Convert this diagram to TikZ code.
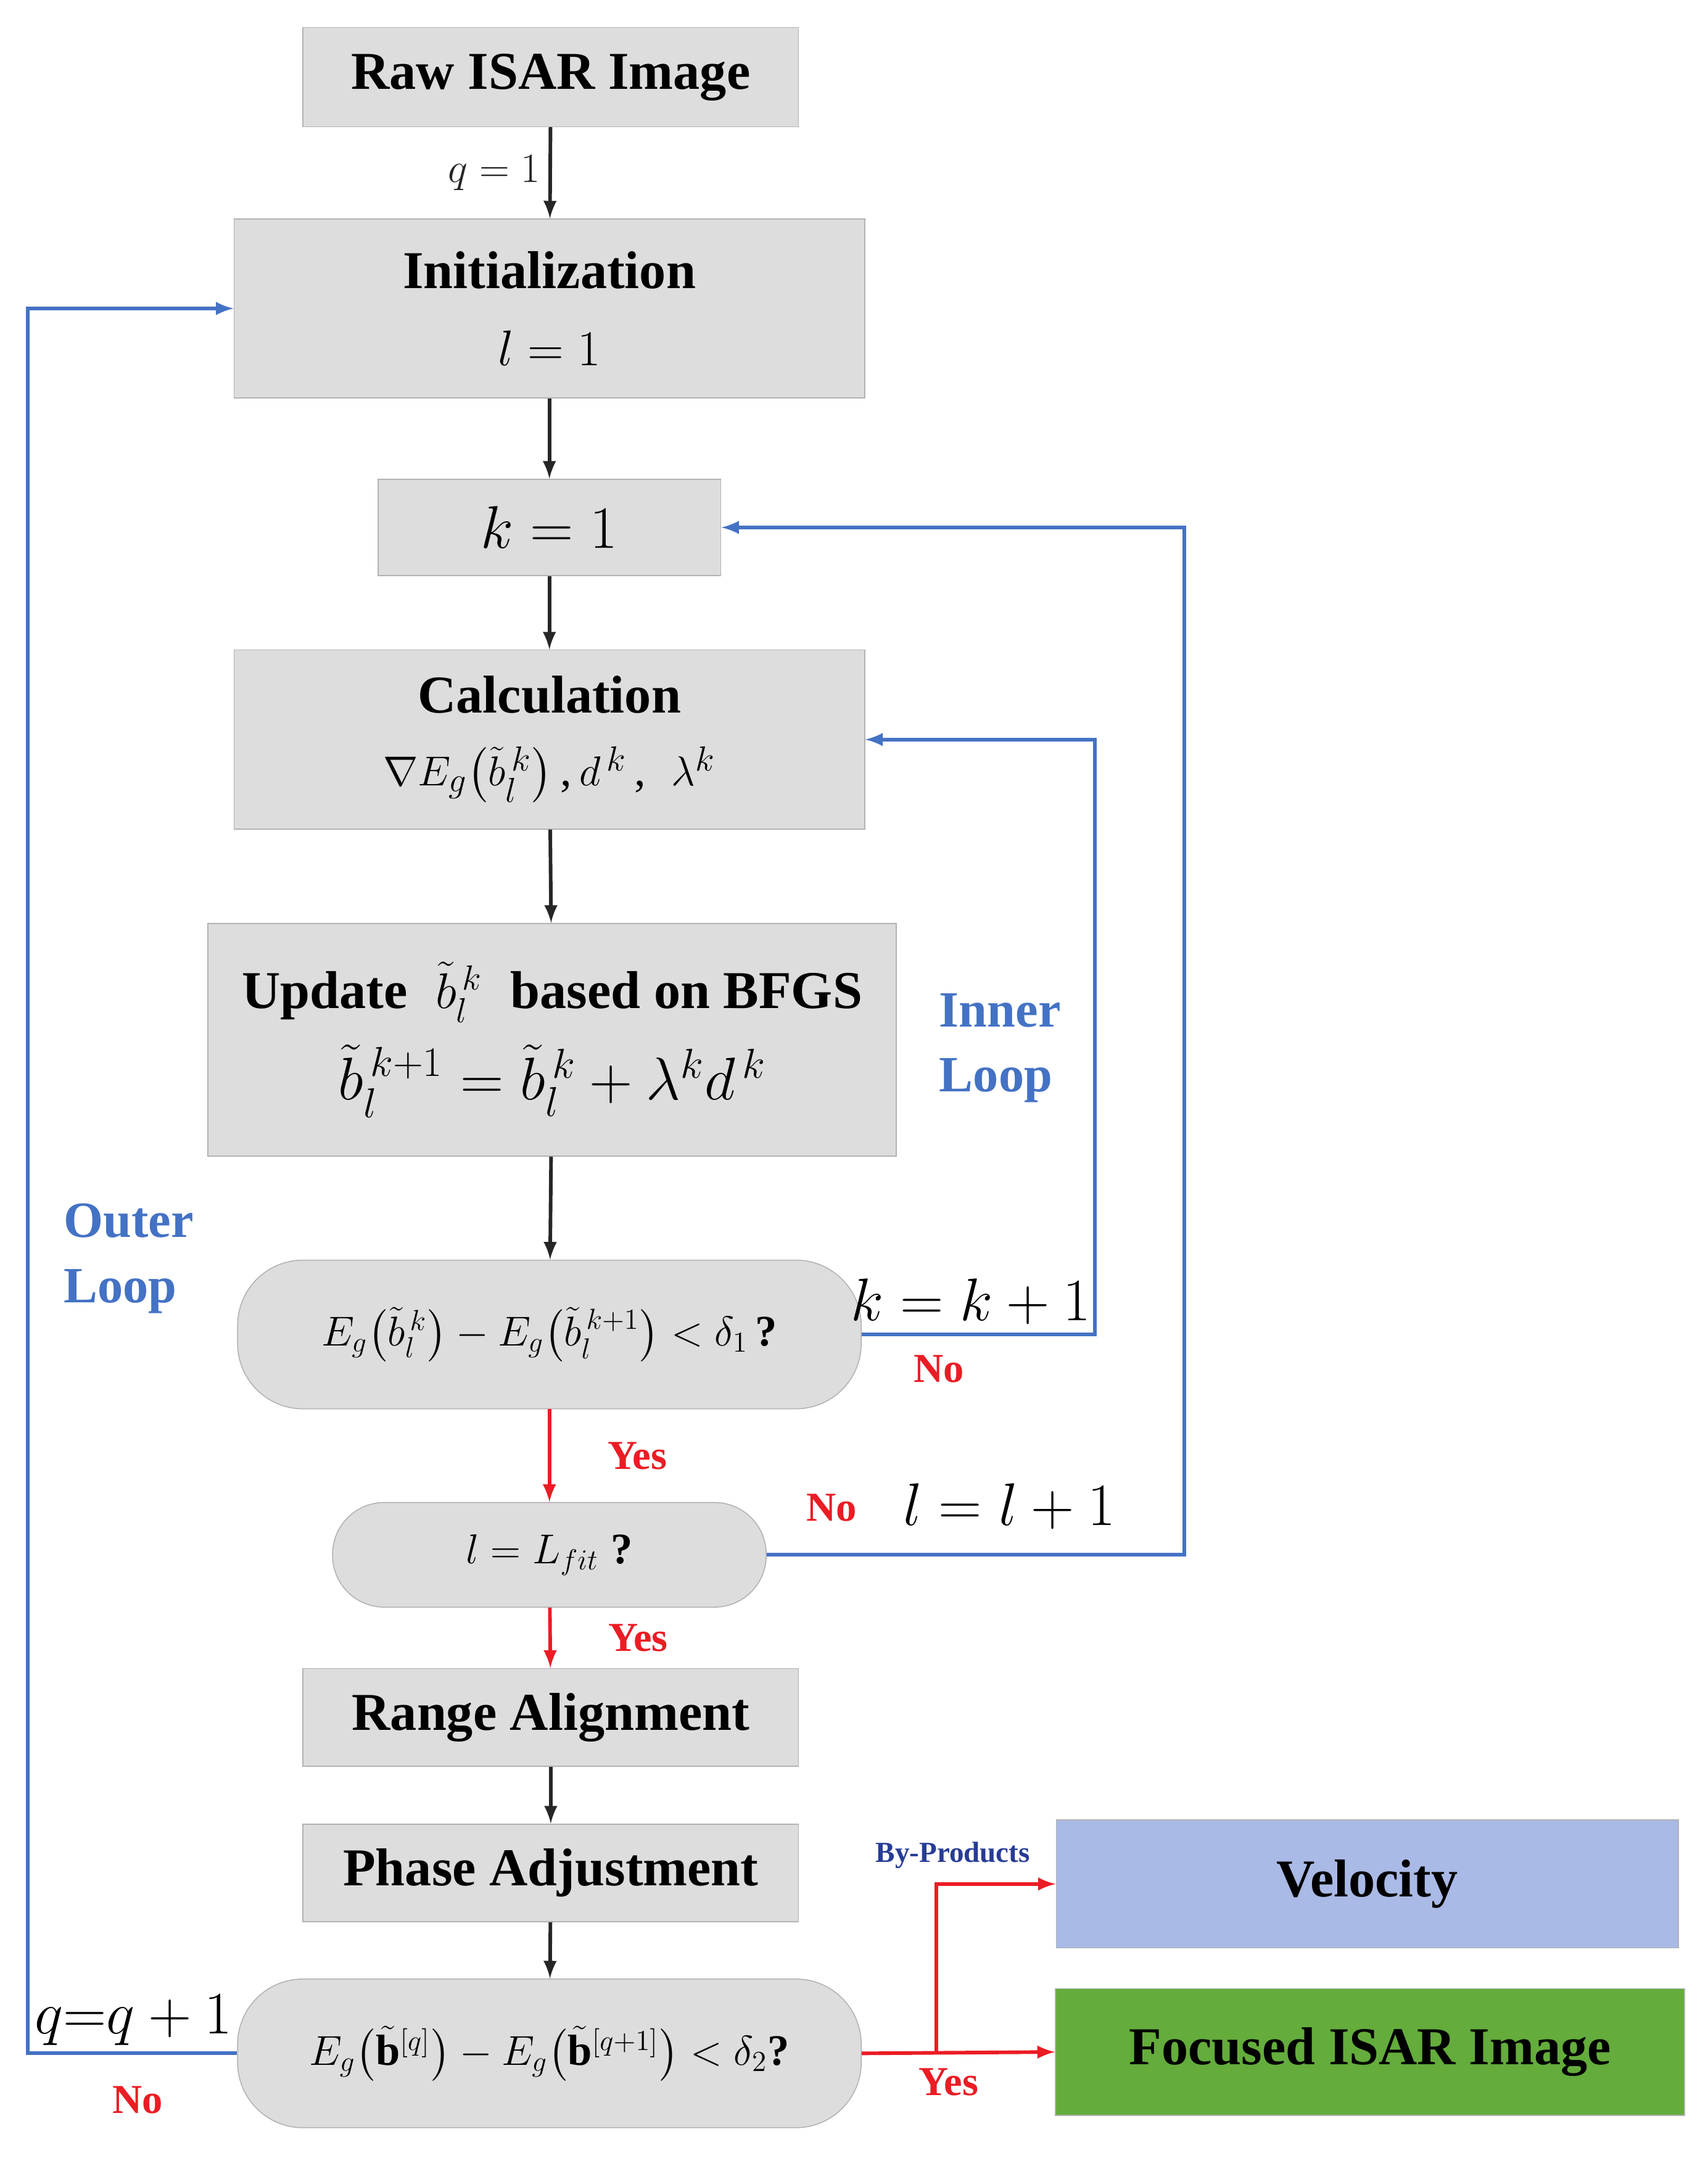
\documentclass[tikz,border=0pt]{standalone}
\usepackage{amsmath,amssymb}
\usepackage{fontspec}
\setmainfont{Liberation Serif}
\usetikzlibrary{positioning}
\definecolor{boxgray}{RGB}{221,221,221}
\definecolor{loopblue}{RGB}{68,114,196}
\definecolor{yesred}{RGB}{235,28,36}
\definecolor{velblue}{RGB}{170,186,230}
\definecolor{focgreen}{RGB}{100,172,60}
\definecolor{bpblue}{RGB}{40,60,150}
\tikzset{
  box/.style={draw=gray!60, fill=boxgray, align=center, inner sep=2pt,
    font=\fontsize{22}{28}\selectfont\bfseries},
  pill/.style={box, rounded corners=0.95cm},
  flow/.style={-latex, line width=1.5pt, black!85},
  yes/.style={-latex, line width=1.5pt, yesred},
  loop/.style={-latex, line width=1.5pt, loopblue},
  redlbl/.style={text=yesred, font=\fontsize{17}{19}\selectfont\bfseries},
  bluelbl/.style={text=loopblue, align=left, font=\fontsize{21}{27}\selectfont\bfseries}
}
\begin{document}
\begin{tikzpicture}[x=0.02cm, y=-0.02cm]
    \useasboundingbox (0,0) rectangle (1240,1567);
    % Boxes
    \node[box, minimum width=7.2cm, minimum height=1.44cm] (raw) at (400,56) {Raw ISAR Image};
    \node[box, minimum width=9.16cm, minimum height=2.6cm] (init) at (399,224) {Initialization\\[4pt] \mdseries$l=1$};
    \node[box, minimum width=4.98cm, minimum height=1.4cm, font=\fontsize{26}{30}\selectfont] (kone) at (399,383) {$k=1$};
    \node[box, minimum width=9.16cm, minimum height=2.6cm] (calc) at (399,537)
      {Calculation\\[2pt] \mdseries\fontsize{19}{24}\selectfont$\nabla E_g\big(\tilde{b}_l^{\,k}\big)$\,,\,$d^{\,k}$\,,\;\;$\lambda^{k}$};
    \node[box, minimum width=10cm, minimum height=3.38cm] (upd) at (401,755)
      {Update \;$\tilde{b}_l^{\,k}$\; based on BFGS\\[8pt] \mdseries\fontsize{24}{28}\selectfont$\tilde{b}_l^{\,k+1}=\tilde{b}_l^{\,k}+\lambda^{k}d^{\,k}$};
    \node[pill, minimum width=9.06cm, minimum height=2.16cm, font=\fontsize{18}{22}\selectfont] (dec1) at (399,969)
      {$E_g\big(\tilde{b}_l^{\,k}\big)-E_g\big(\tilde{b}_l^{\,k+1}\big)<\delta_1$\,\textbf{?}};
    \node[pill, minimum width=6.3cm, minimum height=1.52cm, rounded corners=0.75cm, font=\fontsize{18}{22}\selectfont] (lfit) at (399,1129)
      {$l=L_{fit}$\;\textbf{?}};
    \node[box, minimum width=7.2cm, minimum height=1.42cm] (range) at (400,1247) {Range Alignment};
    \node[box, minimum width=7.2cm, minimum height=1.42cm] (phase) at (400,1360) {Phase Adjustment};
    \node[pill, minimum width=9.06cm, minimum height=2.16cm, font=\fontsize{18}{22}\selectfont] (dec2) at (399,1491)
      {$E_g\big(\tilde{\mathbf{b}}^{[q]}\big)-E_g\big(\tilde{\mathbf{b}}^{[q+1]}\big)<\delta_2$\textbf{?}};
    \node[box, fill=velblue, minimum width=9.04cm, minimum height=1.86cm] (vel) at (993,1368) {Velocity};
    \node[box, fill=focgreen, minimum width=9.14cm, minimum height=1.84cm] (foc) at (995,1490) {Focused ISAR Image};

    % Main flow
    \draw[flow] (raw) -- node[left, font=\fontsize{18}{20}\selectfont] {$q=1$} (init);
    \draw[flow] (init) -- (kone);
    \draw[flow] (kone) -- (calc);
    \draw[flow] (calc) -- (upd);
    \draw[flow] (upd) -- (dec1);
    \draw[yes] (dec1) -- node[right, redlbl, xshift=20pt] {Yes} (lfit);
    \draw[yes] (lfit) -- node[right, redlbl, xshift=20pt] {Yes} (range);
    \draw[flow] (range) -- (phase);
    \draw[flow] (phase) -- (dec2);

    % Loops
    \coordinate (ia) at (795,969);
    \coordinate (ib) at (795,537);
    \draw[loop] (dec1.east) -- (ia) -- (ib) -- (calc.east);
    \node[font=\fontsize{24}{28}\selectfont] at (705,945) {$k=k+1$};
    \node[redlbl] at (682,994) {No};
    \coordinate (la) at (860,1129);
    \coordinate (lb) at (860,383);
    \draw[loop] (lfit.east) -- (la) -- (lb) -- (kone.east);
    \node[redlbl] at (604,1095) {No};
    \node[font=\fontsize{24}{28}\selectfont] at (733,1094) {$l=l+1$};
    \coordinate (oa) at (20,1491);
    \coordinate (ob) at (20,224);
    \draw[loop] (dec2.west) -- (oa) -- (ob) -- (init.west);
    \node[font=\fontsize{24}{28}\selectfont] at (97,1467) {$q{=}q+1$};
    \node[redlbl] at (100,1525) {No};
    \node[bluelbl, anchor=west] at (676,761) {Inner\\Loop};
    \node[bluelbl, anchor=west] at (40,914) {Outer\\Loop};

    % Outputs
    \coordinate (br) at (680,1491);
    \draw[yes] (dec2.east) -- (foc.west);
    \draw[yes] (br) |- (vel.west);
    \node[text=bpblue, font=\fontsize{12}{14}\selectfont\bfseries] at (692,1347) {By-Products};
    \node[redlbl] at (689,1512) {Yes};
\end{tikzpicture}
\end{document}
